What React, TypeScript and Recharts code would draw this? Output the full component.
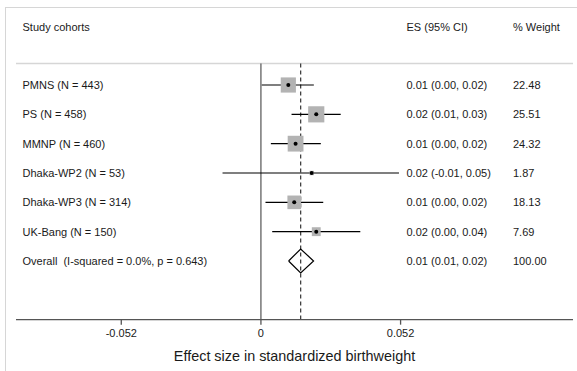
import React from 'react';
import { ScatterChart, Scatter, XAxis, YAxis, ErrorBar, ReferenceLine } from 'recharts';

// study rows, top to bottom
const cohorts = [
    'PMNS (N = 443)',
    'PS (N = 458)',
    'MMNP (N = 460)',
    'Dhaka-WP2 (N = 53)',
    'Dhaka-WP3 (N = 314)',
    'UK-Bang (N = 150)',
];
const effect = [0.0102, 0.0206, 0.0129, 0.0189, 0.0124, 0.0206];
const ciLow = [0.0003, 0.0114, 0.0037, -0.0143, 0.0017, 0.0042];
const ciHigh = [0.0197, 0.0297, 0.0223, 0.0514, 0.0232, 0.037];
const weights = [22.48, 25.51, 24.32, 1.87, 18.13, 7.69];
const esLabels = [
    '0.01 (0.00, 0.02)',
    '0.02 (0.01, 0.03)',
    '0.01 (0.00, 0.02)',
    '0.02 (-0.01, 0.05)',
    '0.01 (0.00, 0.02)',
    '0.02 (0.00, 0.04)',
];
const weightLabels = ['22.48', '25.51', '24.32', '1.87', '18.13', '7.69'];

// pooled estimate
const overallLabel = 'Overall  (I-squared = 0.0%, p = 0.643)';
const overallEs = 0.0148;
const overallLow = 0.0103;
const overallHigh = 0.0196;
const overallEsLabel = '0.01 (0.01, 0.02)';
const overallWeightLabel = '100.00';

const xTicks = [-0.052, 0, 0.052];
const xDomain = [-0.0912, 0.1162];

const FONT = "Arial, 'Liberation Sans', sans-serif";

const studies = cohorts.map((name, i) => ({
    name,
    es: effect[i],
    row: i + 1,
    err: [effect[i] - ciLow[i], ciHigh[i] - effect[i]],
    weight: weights[i],
    esText: esLabels[i],
    wText: weightLabels[i],
}));

const overallRow = cohorts.length + 1;

const textRows = [
    ...studies,
    { name: overallLabel, es: overallEs, row: overallRow, esText: overallEsLabel, wText: overallWeightLabel },
];

const diamond = [
    { es: overallLow, row: overallRow },
    { es: overallEs, row: overallRow - 0.41 },
    { es: overallHigh, row: overallRow },
    { es: overallEs, row: overallRow + 0.41 },
    { es: overallLow, row: overallRow },
];

const SquareShape = (props: any) => {
    const { cx, cy, payload } = props;
    const s = 3.2 * Math.sqrt(payload.weight);
    return <rect x={cx - s / 2} y={cy - s / 2} width={s} height={s} fill="#b3b3b3" />;
};

const DotShape = (props: any) => {
    const { cx, cy } = props;
    return <circle cx={cx} cy={cy} r={2} fill="#000" />;
};

const RowText = (props: any) => {
    const { cy, payload } = props;
    const common = { fontSize: 11, fontFamily: FONT, fill: '#1a1a1a', dominantBaseline: 'central' as const };
    return (
        <g>
            <text x={22.5} y={cy} {...common} style={{ whiteSpace: 'pre' }}>{payload.name}</text>
            <text x={406.5} y={cy} {...common}>{payload.esText}</text>
            <text x={513} y={cy} {...common}>{payload.wText}</text>
        </g>
    );
};

const Nothing = () => <g />;

const headerStyle: React.CSSProperties = {
    position: 'absolute',
    top: 20,
    fontSize: 11,
    fontFamily: FONT,
    color: '#1a1a1a',
    lineHeight: '14px',
    whiteSpace: 'nowrap',
};

export default function App() {
    return (
        <div style={{ position: 'absolute', left: 0, top: 0, width: 577, height: 371, background: '#fff', overflow: 'hidden' }}>
            <div style={{ position: 'absolute', left: 5, top: 7, right: 0, bottom: 0, borderTop: '1px solid #d6d6d6', borderLeft: '1px solid #d6d6d6' }} />
            <div style={{ ...headerStyle, left: 22.5 }}>Study cohorts</div>
            <div style={{ ...headerStyle, left: 406.5 }}>ES (95% CI)</div>
            <div style={{ ...headerStyle, left: 513 }}>% Weight</div>
            <div style={{ position: 'absolute', left: 0, top: 0 }}>
                <ScatterChart width={577} height={371} margin={{ top: 55.67, right: 4, bottom: 7.33, left: 16 }}>
                    <XAxis
                        type="number"
                        dataKey="es"
                        domain={xDomain}
                        ticks={xTicks}
                        allowDataOverflow
                        height={44}
                        tickSize={5}
                        tickMargin={5}
                        stroke="#555"
                        strokeWidth={1.3}
                        tick={{ fontSize: 11, fontFamily: FONT, fill: '#1a1a1a' }}
                        tickFormatter={(v) => String(v)}
                        label={{ value: 'Effect size in standardized birthweight', position: 'insideBottom', offset: 3, fontSize: 14.4, fontFamily: FONT, fill: '#1a1a1a' }}
                    />
                    <YAxis type="number" dataKey="row" domain={[0, 9]} reversed hide />
                    <ReferenceLine y={0.27} stroke="#d6d6d6" strokeWidth={1.5} />
                    <ReferenceLine segment={[{ x: 0, y: 0.27 }, { x: 0, y: 9 }]} stroke="#444" strokeWidth={1.1} />
                    <ReferenceLine segment={[{ x: overallEs, y: 0.27 }, { x: overallEs, y: 9 }]} stroke="#333" strokeWidth={1.2} strokeDasharray="4 3" />
                    <Scatter data={studies} shape={SquareShape} isAnimationActive={false} />
                    <Scatter data={studies} shape={DotShape} isAnimationActive={false}>
                        <ErrorBar dataKey="err" direction="x" width={0} stroke="#000" strokeWidth={1.2} />
                    </Scatter>
                    <Scatter data={diamond} line={{ stroke: '#000', strokeWidth: 1.2 }} shape={Nothing} isAnimationActive={false} />
                    <Scatter data={textRows} shape={RowText} isAnimationActive={false} />
                </ScatterChart>
            </div>
        </div>
    );
}
